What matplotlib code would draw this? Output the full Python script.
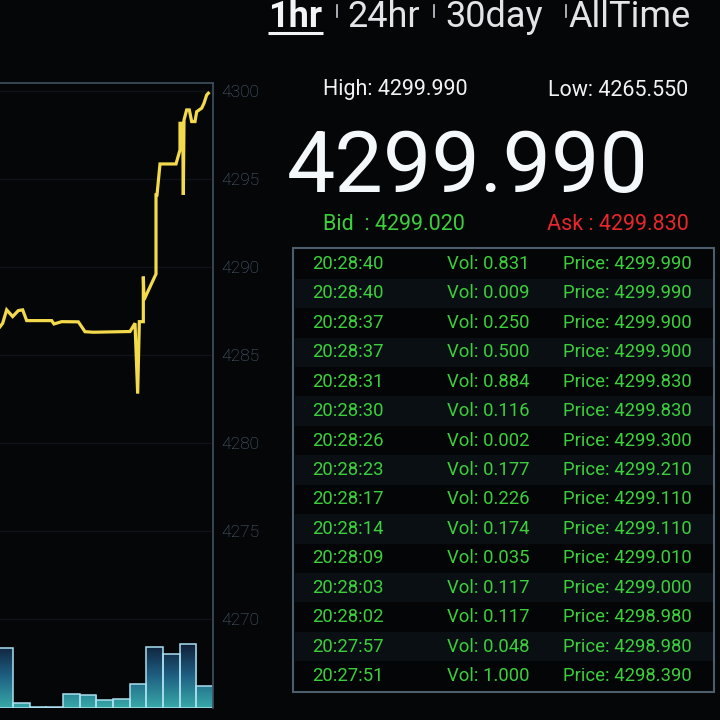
import numpy as np
import matplotlib
matplotlib.use("Agg")
import matplotlib.pyplot as plt
from matplotlib.colors import LinearSegmentedColormap
from matplotlib.patches import Rectangle

plt.rcParams['font.family'] = ['Roboto', 'DejaVu Sans']

# price line (minutes into the hour, price)
line_t = [-3.9, -3.1, -1.9, -0.1, 1.6, 2.9, 4.1, 11.6, 12.3, 14.6, 19.6, 21.6,
          24.1, 35.1, 36.6, 37.4, 37.9, 39.1, 39.1, 39.3, 42.9, 42.9, 43.2, 44.1,
          48.9, 50.1, 50.1, 50.9, 51.1, 51.3, 52.1, 52.9, 53.6, 54.6, 55.1, 56.6,
          57.3, 58.1, 58.6]
line_price = [4286.6, 4286.8, 4287.56, 4287.18, 4287.52, 4287.56, 4286.95, 4286.95,
              4286.76, 4286.89, 4286.88, 4286.32, 4286.29, 4286.33, 4286.8, 4282.8,
              4286.89, 4286.89, 4289.45, 4288.13, 4289.6, 4294.09, 4294.09, 4295.85,
              4295.85, 4296.65, 4298.16, 4298.16, 4294.09, 4298.35, 4298.92, 4298.92,
              4298.26, 4298.26, 4298.82, 4299.02, 4299.3, 4299.77, 4299.87]

# volume per 5 minute bucket
vol_start = [-5, 0, 5, 10, 15, 20, 25, 30, 35, 40, 45, 50, 55]
vol_amount = [6.0, 0.5, 0.12, 0.12, 1.4, 1.3, 0.8, 0.9, 2.4, 6.1, 5.4, 6.4, 2.2]

price_ticks = [4270, 4275, 4280, 4285, 4290, 4295, 4300]

tabs = ['1hr', '24hr', '30day', 'AllTime']
high = '4299.990'
low = '4265.550'
last = '4299.990'
bid = '4299.020'
ask = '4299.830'

trade_time = ['20:28:40', '20:28:40', '20:28:37', '20:28:37', '20:28:31', '20:28:30',
              '20:28:26', '20:28:23', '20:28:17', '20:28:14', '20:28:09', '20:28:03',
              '20:28:02', '20:27:57', '20:27:51']
trade_vol = ['0.831', '0.009', '0.250', '0.500', '0.884', '0.116', '0.002', '0.177',
             '0.226', '0.174', '0.035', '0.117', '0.117', '0.048', '1.000']
trade_price = ['4299.990', '4299.990', '4299.900', '4299.900', '4299.830', '4299.830',
               '4299.300', '4299.210', '4299.110', '4299.110', '4299.010', '4299.000',
               '4298.980', '4298.980', '4298.390']

bg = '#050608'
green = '#3ccf3c'
W = H = 720

fig = plt.figure(figsize=(7.2, 7.2), dpi=100, facecolor=bg)

# chart: x 0..213 px, y 83..708 px
ax = fig.add_axes([0, 12 / H, 213 / W, 625 / H])
vax = ax.twinx()
ax.set_zorder(2)
ax.patch.set_visible(False)
vax.set_zorder(1)
vax.set_facecolor(bg)

ax.plot(line_t, line_price, color='#f3d94c', lw=2.3, solid_joinstyle='miter', zorder=3)
ax.set_xlim(-3.9, 60)
ax.set_ylim(4264.94, 4300.45)
ax.set_yticks(price_ticks)
ax.yaxis.tick_right()
ax.tick_params(axis='y', length=0, pad=6, labelsize=12.5, labelcolor='#56677b')
for lab in ax.get_yticklabels():
    lab.set_fontweight('light')
ax.set_xticks([])
ax.grid(axis='y', color='#0d1319', lw=1)
for side in ['left', 'bottom']:
    ax.spines[side].set_visible(False)
for side in ['top', 'right']:
    ax.spines[side].set_color('#3b4b5b')
    ax.spines[side].set_linewidth(1.3)

# volume bars with vertical gradient
vmax = 6.5
cmap = LinearSegmentedColormap.from_list('vol', ['#37a9a8', '#1f5f82', '#0f1f38'])
for x0, v in zip(vol_start, vol_amount):
    bar = vax.bar(x0, v, width=5, align='edge', facecolor='none',
                  edgecolor='#a9dff0', lw=1.1, zorder=3)[0]
    grad = np.linspace(0, v / vmax, 60)[:, None]
    im = vax.imshow(grad, extent=[x0, x0 + 5, 0, v], origin='lower', aspect='auto',
                    cmap=cmap, vmin=0, vmax=1, zorder=2)
    im.set_clip_path(bar)
vax.set_xlim(-3.9, 60)
vax.set_ylim(0, 62.5)
vax.set_yticks([])
vax.set_xticks([])
for s in vax.spines.values():
    s.set_visible(False)

# overlay in pixel coordinates
ov = fig.add_axes([0, 0, 1, 1], zorder=5)
ov.set_xlim(0, W)
ov.set_ylim(H, 0)
ov.axis('off')

# tabs
tab_x = [268, 347, 445, 568]
for i, (t, x) in enumerate(zip(tabs, tab_x)):
    ov.text(x, 27, t, color='#f2f4f6' if i == 0 else '#e2e5e8', fontsize=26,
            fontweight='bold' if i == 0 else 'normal', va='baseline', ha='left')
ov.plot([268, 323], [32.5, 32.5], color='#f2f4f6', lw=2.2, solid_capstyle='butt')
for x in [337, 434, 566]:
    ov.plot([x, x], [5, 17], color='#c8ccd0', lw=1.2)

ov.text(323, 90, 'High: ' + high, color='#f0f2f4', fontsize=15.5, va='center', ha='left')
ov.text(688, 90, 'Low: ' + low, color='#f0f2f4', fontsize=15.5, va='center', ha='right')
ov.text(468, 192, last, color='#f4f8fa', fontsize=62, va='baseline', ha='center')
ov.text(323, 224, 'Bid  : ' + bid, color=green, fontsize=15.5, va='center', ha='left')
ov.text(689, 224, 'Ask : ' + ask, color='#e8262b', fontsize=15.5, va='center', ha='right')

# trades table
row_h = 29.43
for i in range(len(trade_time)):
    yc = 264 + i * row_h
    shade = '#0a0f14' if i % 2 else '#040506'
    ov.add_patch(Rectangle((295, yc - row_h / 2), 418, row_h, facecolor=shade,
                           edgecolor='none', zorder=1))
    ov.text(312, yc, trade_time[i], color=green, fontsize=13.3, va='center', ha='left', zorder=3)
    ov.text(447, yc, 'Vol: ' + trade_vol[i], color=green, fontsize=13.3, va='center',
            ha='left', zorder=3)
    ov.text(563, yc, 'Price: ' + trade_price[i], color=green, fontsize=13.3, va='center',
            ha='left', zorder=3)
ov.add_patch(Rectangle((293, 248), 421, 444, facecolor='none', edgecolor='#4d5d6c',
                       lw=1.5, zorder=4))

fig.savefig('out.png', dpi=100, facecolor=bg)
